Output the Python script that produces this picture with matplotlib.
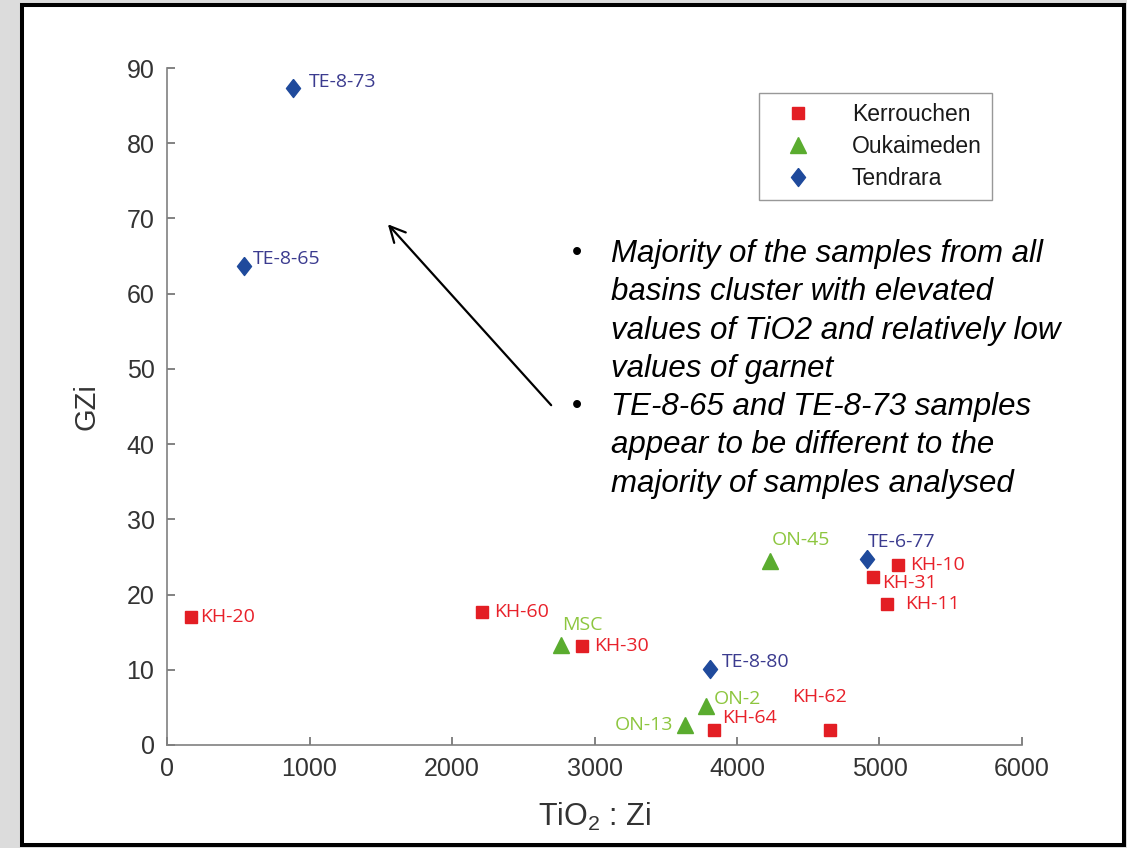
import matplotlib
matplotlib.use('Agg')
import matplotlib.pyplot as plt
from matplotlib.patches import Rectangle

plt.rcParams['font.family'] = 'Liberation Sans'
plt.rcParams['mathtext.default'] = 'regular'

# Kerrouchen basin samples
kh_names = ['KH-20', 'KH-60', 'KH-30', 'KH-64', 'KH-62', 'KH-10', 'KH-31', 'KH-11']
kh_tio2 = [170, 2210, 2910, 3840, 4650, 5130, 4955, 5055]
kh_gzi = [17.0, 17.7, 13.2, 2.0, 2.0, 23.9, 22.3, 18.8]

# Oukaimeden basin samples
on_names = ['MSC', 'ON-13', 'ON-2', 'ON-45']
on_tio2 = [2765, 3635, 3780, 4230]
on_gzi = [13.3, 2.7, 5.2, 24.5]

# Tendrara basin samples
te_names = ['TE-8-65', 'TE-8-73', 'TE-8-80', 'TE-6-77']
te_tio2 = [540, 885, 3810, 4910]
te_gzi = [63.7, 87.4, 10.1, 24.7]

x_ticks = [0, 1000, 2000, 3000, 4000, 5000, 6000]
y_ticks = [0, 10, 20, 30, 40, 50, 60, 70, 80, 90]

notes = [
    ['Majority of the samples from all',
     'basins cluster with elevated',
     'values of TiO2 and relatively low',
     'values of garnet'],
    ['TE-8-65 and TE-8-73 samples',
     'appear to be different to the',
     'majority of samples analysed'],
]

# label offsets (pixels) and alignment
kh_off = [(9, 0, 'left'), (12, 0, 'left'), (12, 0, 'left'), (8, 12, 'left'),
          (-37, 33, 'left'), (12, 0, 'left'), (9, -6, 'left'), (18, 0, 'left')]
on_off = [(1, 20, 'left'), (-12, 0, 'right'), (8, 7, 'left'), (2, 21, 'left')]
te_off = [(9, 7, 'left'), (16, 6, 'left'), (12, 7, 'left'), (1, 17, 'left')]

diamond = [(0, 1), (0.78, 0), (0, -1), (-0.78, 0), (0, 1)]

fig = plt.figure(figsize=(11.27, 8.48), dpi=100, facecolor='#dcdcdc')
fig.patches.append(Rectangle((22 / 1127, 3 / 848), 1102 / 1127, 840 / 848,
                             transform=fig.transFigure, facecolor='white',
                             edgecolor='black', lw=2.9, zorder=-10))

ax = fig.add_axes([167 / 1127, 1 - 745 / 848, 855 / 1127, 677 / 848])
ax.set_facecolor('none')

series = [
    ('Kerrouchen', kh_names, kh_tio2, kh_gzi, kh_off, 's', 9, '#e31e24', '#e8212a'),
    ('Oukaimeden', on_names, on_tio2, on_gzi, on_off, '^', 12, '#5aac2f', '#8dc63f'),
    ('Tendrara', te_names, te_tio2, te_gzi, te_off, diamond, 13, '#1f4a9c', '#3b3b8f'),
]

for label, names, xs, ys, offs, mk, ms, col, tcol in series:
    ax.plot(xs, ys, ls='none', marker=mk, ms=ms, color=col, mec=col,
            label=label, clip_on=False)
    for name, x, y, (dx, dy, ha) in zip(names, xs, ys, offs):
        ax.annotate(name, (x, y), xytext=(dx, dy), textcoords='offset pixels',
                    ha=ha, va='center', color=tcol, fontsize=14,
                    family='Open Sans')

ax.set_xlim(0, 6000)
ax.set_ylim(0, 90)
ax.set_xticks(x_ticks)
ax.set_yticks(y_ticks)
for s in ['top', 'right']:
    ax.spines[s].set_visible(False)
for s in ['left', 'bottom']:
    ax.spines[s].set_color('#808080')
    ax.spines[s].set_linewidth(1.2)
ax.tick_params(direction='in', length=6, width=1.1, color='#606060',
               labelsize=18, labelcolor='#333333', pad=9)

ax.set_xlabel('TiO$_2$ : Zi', fontsize=22, color='#333333')
ax.set_ylabel('GZi', fontsize=21, color='#333333')
ax.xaxis.set_label_coords(0.5, -0.083)
ax.yaxis.set_label_coords(-0.078, 0.5)

leg = ax.legend(loc='upper left', bbox_to_anchor=(759 / 1127, 1 - 93 / 848),
                bbox_transform=fig.transFigure, borderaxespad=0,
                fontsize=16.5, frameon=True, fancybox=False, borderpad=0.45,
                handlelength=2.5, handletextpad=1.1, labelspacing=0.38)
leg.get_frame().set_edgecolor('#7f7f7f')
leg.get_frame().set_linewidth(1.0)
for t in leg.get_texts():
    t.set_color('#1a1a1a')

# arrow pointing at the outliers
ax.annotate('', xy=(1537, 69.5), xytext=(2709, 44.9),
            arrowprops=dict(arrowstyle='->', lw=1.6, color='black',
                            mutation_scale=28))

# bullet notes
first_baseline = 262
line_step = 38.3
row = 0
for block in notes:
    top = first_baseline + row * line_step
    fig.text(577 / 1127, 1 - (top - 1) / 848, '\u2022', fontsize=21,
             ha='center', va='baseline', color='black')
    for line in block:
        fig.text(611 / 1127, 1 - (first_baseline + row * line_step) / 848,
                 line, fontsize=22.5, style='italic', ha='left',
                 va='baseline', color='black')
        row += 1

fig.savefig('out.png', dpi=100, facecolor=fig.get_facecolor())
